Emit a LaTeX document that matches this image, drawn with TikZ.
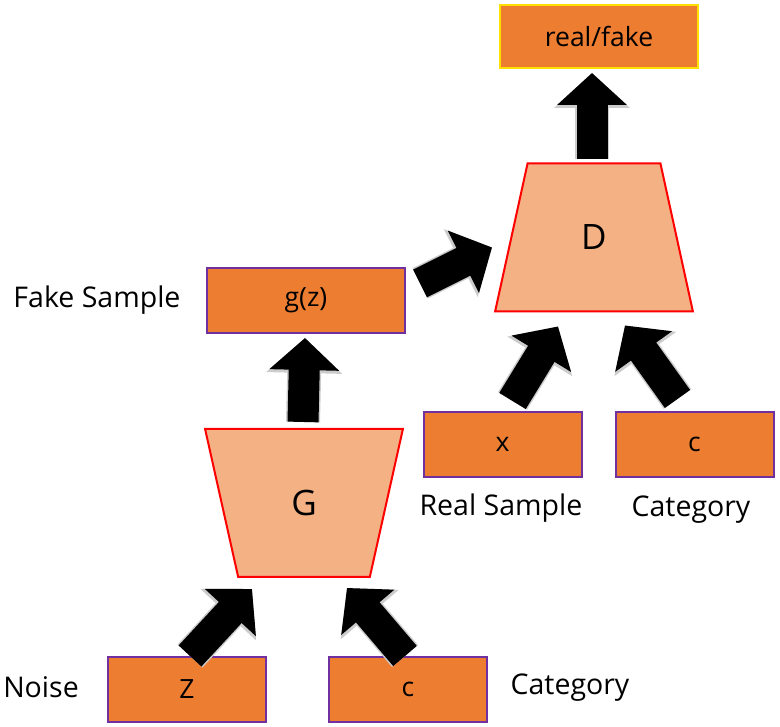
\documentclass[tikz,border=0pt]{standalone}
\usepackage{fontspec}
\setmainfont{Open Sans}
\usetikzlibrary{shapes.geometric,arrows.meta}
\definecolor{boxfill}{HTML}{ED7D31}
\definecolor{trapfill}{HTML}{F4B183}
\definecolor{boxline}{HTML}{7030A0}
\definecolor{rfline}{HTML}{FFE000}
\begin{document}
\begin{tikzpicture}[x=1pt,y=1pt]
\tikzstyle{box} = [draw=boxline, line width=2pt, fill=boxfill, minimum width=158pt, minimum height=65pt, inner sep=0pt, font=\fontsize{26.5}{30}\selectfont]
\tikzstyle{trap} = [draw=red, line width=2pt, fill=trapfill, trapezium, trapezium stretches=true, trapezium angle=76, minimum width=198pt, minimum height=148pt, inner sep=0pt, font=\fontsize{35}{40}\selectfont]
\tikzstyle{lbl} = [inner sep=0pt, font=\fontsize{28.5}{32}\selectfont]
\tikzstyle{bigarrow} = [line width=31pt, -{Triangle[width=68pt,length=32pt]}, preaction={draw=black!20, line width=34pt, -{Triangle[width=74pt,length=35pt]}}]
\useasboundingbox (0,0) rectangle (780,727);
% boxes
\node[box, minimum width=198pt, minimum height=63pt, draw=rfline] (rf) at (599, 690.5) {real/fake};
\node[trap] (D) at (594, 489.5) {D};
\node[box, minimum width=198pt] (gz) at (306, 426.5) {g(z)};
\node[trap, shape border rotate=180] (G) at (304, 224) {G};
\node[box] (xs) at (502.5, 282.5) {x};
\node[box] (cd) at (694.5, 282.5) {c};
\node[box] (z) at (187, 37.5) {Z};
\node[box] (cg) at (408, 37.5) {c};
% labels
\node[lbl] (fake) at (97, 427) {Fake Sample};
\node[lbl] (real) at (501, 219) {Real Sample};
\node[lbl] (catd) at (691, 217) {Category};
\node[lbl] (noise) at (41, 40) {Noise};
\node[lbl] (catg) at (570, 39) {Category};
% arrows
\draw[bigarrow] ([xshift=3pt]z.north) -- ([xshift=-52pt,yshift=-11pt]G.south);
\draw[bigarrow] ([xshift=-3pt]cg.north) -- ([xshift=43pt,yshift=-10pt]G.south);
\draw[bigarrow] ([xshift=-1pt,yshift=6pt]G.north) -- ([xshift=-1pt,yshift=-4pt]gz.south);
\draw[bigarrow] ([xshift=14pt,yshift=17pt]gz.east) -- ([xshift=-102pt,yshift=-10pt]D.center);
\draw[bigarrow] ([xshift=10pt,yshift=10pt]xs.north) -- ([xshift=-36pt,yshift=-14pt]D.south);
\draw[bigarrow] ([xshift=-17pt,yshift=12pt]cd.north) -- ([xshift=31pt,yshift=-13pt]D.south);
\draw[bigarrow] ([xshift=-2pt,yshift=3pt]D.north) -- ([xshift=-7pt,yshift=-4pt]rf.south);
\end{tikzpicture}
\end{document}
